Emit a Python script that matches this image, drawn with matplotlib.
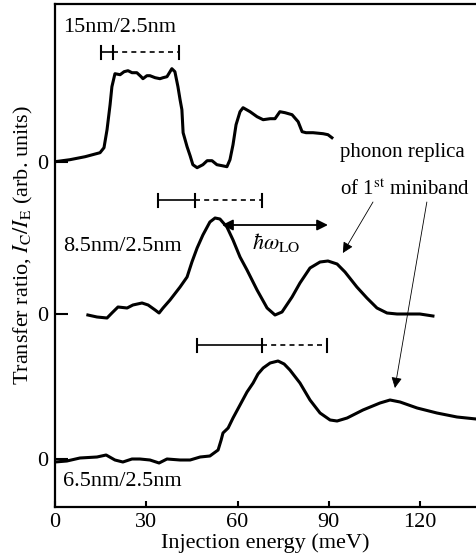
import numpy as np
import matplotlib
matplotlib.use('Agg')
import matplotlib.pyplot as plt

plt.rcParams['font.family'] = ['Liberation Serif', 'DejaVu Serif']
plt.rcParams['mathtext.fontset'] = 'stix'
plt.rcParams['font.size'] = 16

# 15nm/2.5nm sample
e_15 = [0, 4.9, 9.9, 14.8, 16.1, 17.1, 18.1, 18.7, 19.7, 21.4, 22.7, 24.0, 25.3, 26.9,
        28.3, 28.9, 30.2, 31.2, 32.9, 34.5, 35.5, 36.8, 37.8, 38.4, 39.4, 40.4, 41.1,
        41.7, 42.1, 43.4, 44.4, 45.3, 46.7, 48.6, 50.0, 51.6, 53.2, 54.9, 56.5, 57.5,
        58.5, 59.5, 60.8, 61.8, 64.1, 66.4, 68.4, 70.7, 72.3, 73.9, 75.6, 77.9, 79.9,
        81.2, 82.5, 84.8, 88.1, 89.7, 91.0]
t_15 = [0, 0.02, 0.05, 0.09, 0.14, 0.32, 0.57, 0.75, 0.88, 0.87, 0.90, 0.91, 0.89, 0.89,
        0.85, 0.83, 0.86, 0.86, 0.84, 0.83, 0.84, 0.85, 0.90, 0.93, 0.90, 0.75, 0.62,
        0.52, 0.29, 0.15, 0.06, -0.03, -0.06, -0.03, 0.01, 0.01, -0.03, -0.04, -0.05, 0.02,
        0.17, 0.37, 0.50, 0.54, 0.50, 0.45, 0.42, 0.43, 0.43, 0.50, 0.49, 0.47, 0.40,
        0.30, 0.29, 0.29, 0.28, 0.27, 0.24]

# 8.5nm/2.5nm sample
e_85 = [10.8, 13.8, 17.1, 18.7, 20.7, 23.7, 25.6, 28.6, 30.6, 32.9, 34.2, 35.5, 37.8,
        41.1, 43.4, 45.0, 46.7, 48.6, 50.9, 52.6, 54.2, 56.5, 58.5, 60.8, 63.1, 66.4,
        69.7, 72.3, 74.6, 77.9, 80.5, 83.8, 87.1, 89.7, 92.7, 95.3, 99.2, 102.5, 105.8,
        109.1, 112.4, 115.7, 119.9, 124.2]
t_85 = [-0.01, -0.03, -0.04, 0.01, 0.07, 0.06, 0.09, 0.11, 0.09, 0.04, 0.01, 0.06, 0.14,
        0.27, 0.37, 0.52, 0.66, 0.79, 0.92, 0.96, 0.95, 0.87, 0.74, 0.57, 0.44, 0.24,
        0.06, -0.01, 0.02, 0.17, 0.31, 0.46, 0.52, 0.53, 0.50, 0.42, 0.27, 0.16, 0.06,
        0.01, 0.0, 0.0, 0.0, -0.02]

# 6.5nm/2.5nm sample
e_65 = [0, 3.9, 8.2, 13.8, 16.8, 19.7, 22.3, 25.3, 27.9, 31.2, 34.2, 36.8, 41.1, 44.4,
        47.7, 50.9, 53.6, 54.6, 55.2, 56.9, 58.5, 60.8, 63.1, 65.1, 66.7, 68.4, 70.7,
        73.3, 75.3, 77.2, 80.5, 83.8, 87.1, 90.4, 92.7, 96.0, 101.2, 106.8, 110.1,
        113.4, 119.0, 125.5, 132.1, 138.4]
t_65 = [-0.03, -0.02, 0.01, 0.02, 0.04, -0.01, -0.03, 0.0, 0.0, -0.01, -0.04, 0.0, -0.01,
        -0.01, 0.02, 0.03, 0.09, 0.19, 0.26, 0.31, 0.41, 0.54, 0.67, 0.76, 0.85, 0.91,
        0.96, 0.98, 0.95, 0.89, 0.76, 0.59, 0.46, 0.39, 0.38, 0.41, 0.49, 0.56, 0.59,
        0.57, 0.51, 0.46, 0.42, 0.40]

names = ['15nm/2.5nm', '8.5nm/2.5nm', '6.5nm/2.5nm']
offsets = [3.453, 1.93, 0.48]
name_y = [4.79, 2.61, 0.25]

# miniband width: start, end of solid part, end of dashed part (meV)
band_15 = [15.1, 19.1, 40.7]
band_85 = [33.8, 46.0, 68.0]
band_65 = [46.7, 68.0, 89.4]
band_y = [4.55, 3.07, 1.62]

fig = plt.figure(figsize=(4.76, 5.58), dpi=100)
ax = fig.add_axes([55 / 476, 1 - 507 / 558, 1 - 55 / 476, 503 / 558])

for e, t, off in [(e_15, t_15, offsets[0]), (e_85, t_85, offsets[1]), (e_65, t_65, offsets[2])]:
    ax.plot(e, np.asarray(t) + off, color='black', lw=2.2, solid_joinstyle='round')

for name, y in zip(names, name_y):
    ax.text(2.6, y, name, va='center', ha='left')

cap = 0.065
for band, y in zip([band_15, band_85, band_65], band_y):
    ax.plot(band[:2], [y, y], color='black', lw=1.2)
    ax.plot(band[1:], [y, y], color='black', lw=1.2, ls=(0, (3, 2.5)))
    for xc in band:
        ax.plot([xc, xc], [y - cap, y + cap], color='black', lw=1.5)

# LO phonon energy arrow
ax.annotate('', xy=(54.9, 2.82), xytext=(89.7, 2.82),
            arrowprops=dict(arrowstyle='<|-|>', color='black', lw=1.3,
                            mutation_scale=16, shrinkA=0, shrinkB=0))
ax.text(72.6, 2.64, r'$\hbar\omega_{\rm LO}$', ha='center', va='center')

ax.text(93.5, 3.55, 'phonon replica', ha='left', va='center', fontsize=15)
ax.text(93.5, 3.17, r'of 1$^{\rm st}$ miniband', ha='left', va='center', fontsize=15)
ax.annotate('', xy=(94.6, 2.54), xytext=(104.5, 3.05),
            arrowprops=dict(arrowstyle='-|>', color='black', lw=0.6,
                            mutation_scale=16, shrinkA=0, shrinkB=0))
ax.annotate('', xy=(111.7, 1.19), xytext=(122.2, 3.05),
            arrowprops=dict(arrowstyle='-|>', color='black', lw=0.6,
                            mutation_scale=16, shrinkA=0, shrinkB=0))

ax.set_xlim(0, 138.35)
ax.set_ylim(0, 5.03)
ax.spines['right'].set_visible(False)
for s in ['left', 'top', 'bottom']:
    ax.spines[s].set_linewidth(1.6)
ax.set_xticks([0, 30, 60, 90, 120])
ax.set_yticks(offsets)
ax.set_yticklabels(['0', '0', '0'])
ax.tick_params(axis='x', direction='in', length=4.5, width=1.5, pad=4)
ax.tick_params(axis='y', direction='in', length=9.5, width=1.5, pad=5)
ax.set_xlabel('Injection energy (meV)', labelpad=1)
fig.text(23 / 476, 1 - 245 / 558, r'Transfer ratio, $I_{\rm C}/I_{\rm E}$ (arb. units)',
         rotation=90, ha='center', va='center')

fig.savefig('out.png', dpi=100)
